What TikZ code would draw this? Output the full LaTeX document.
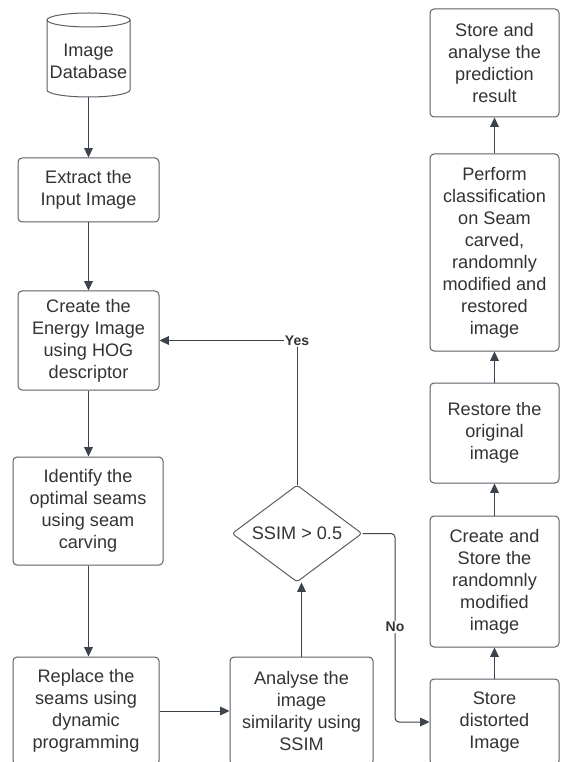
\documentclass[tikz,border=0pt]{standalone}
\usepackage{fontspec}
\setmainfont{Liberation Sans}
\usetikzlibrary{arrows.meta,shapes.geometric}
\definecolor{linec}{HTML}{3D434B}
\definecolor{boxc}{HTML}{5A5F66}
\definecolor{textc}{HTML}{333333}
\tikzset{
  flowbox/.style={draw=boxc, line width=0.75pt, rounded corners=3pt, align=center,
    text=textc, font=\fontsize{13.6pt}{16.5pt}\selectfont, inner sep=0pt},
  flowarrow/.style={draw=linec, line width=0.75pt, -{Triangle[length=7pt,width=6.5pt]}},
  flowline/.style={draw=linec, line width=0.75pt},
  edgelabel/.style={fill=white, text=textc, font=\fontsize{10.5pt}{12pt}\selectfont\bfseries, inner sep=1pt},
  decision/.style={diamond, draw=boxc, line width=0.75pt, rounded corners=2pt, aspect=1.34,
    text=textc, font=\fontsize{13.6pt}{16.5pt}\selectfont, inner sep=0pt,
    minimum width=130*0.75pt, minimum height=97*0.75pt}
}
\begin{document}
\begin{tikzpicture}[x=0.75pt,y=-0.75pt]
\useasboundingbox (0,0) rectangle (560,762);
\clip (0,0) rectangle (560,762);
\fill[white] (0,0) rectangle (560,762);
% database cylinder
\draw[boxc, line width=0.75pt, fill=white] (47,20) -- (47,90) arc[start angle=180, end angle=0, x radius=41.5, y radius=7] -- (130,20);
\draw[boxc, line width=0.75pt] (88.5,20) ellipse[x radius=41.5, y radius=7];
\node[flowbox, draw=none] (db) at (88.5,61) {Image\\Database};
\coordinate (dbbot) at (88.5,97);
% left column
\node[flowbox, minimum width=141*0.75pt, minimum height=64*0.75pt] (extract) at (88.5,190) {Extract the\\Input Image};
\node[flowbox, minimum width=141*0.75pt, minimum height=99*0.75pt] (energy) at (88.5,340.5) {Create the\\Energy Image\\using HOG\\descriptor};
\node[flowbox, minimum width=150*0.75pt, minimum height=108*0.75pt] (identify) at (88,511) {Identify the\\optimal seams\\using seam\\carving};
\node[flowbox, minimum width=146*0.75pt, minimum height=108*0.75pt] (replace) at (86,711) {Replace the\\seams using\\dynamic\\programming};
% middle
\node[flowbox, minimum width=143*0.75pt, minimum height=108*0.75pt] (analyse) at (301.5,711) {Analyse the\\image\\similarity using\\SSIM};
\node[decision] (dia) at (297,533.5) {SSIM > 0.5};
% right column
\node[flowbox, minimum width=129*0.75pt, minimum height=108*0.75pt] (store) at (494.5,63) {Store and\\analyse the\\prediction\\result};
\node[flowbox, minimum width=129*0.75pt, minimum height=197*0.75pt] (perform) at (494.5,252.5) {Perform\\classification\\on Seam\\carved,\\randomnly\\modified and\\restored\\image};
\node[flowbox, minimum width=129*0.75pt, minimum height=100*0.75pt] (restore) at (494.5,433) {Restore the\\original\\image};
\node[flowbox, minimum width=129*0.75pt, minimum height=131*0.75pt] (create) at (494.5,581.5) {Create and\\Store the\\randomnly\\modified\\image};
\node[flowbox, minimum width=129*0.75pt, minimum height=86*0.75pt] (distorted) at (494.5,722) {Store\\distorted\\Image};
\coordinate (nocorner) at (395,627);
% connectors
\draw[flowarrow] (dbbot) -- (extract.north);
\draw[flowarrow] (extract.south) -- (energy.north);
\draw[flowarrow] (energy.south) -- (identify.north -| energy.south);
\draw[flowarrow] (identify.south -| energy.south) -- (replace.north -| energy.south);
\draw[flowarrow] (replace.east) -- (analyse.west);
\draw[flowarrow] (analyse.north) -- (analyse.north |- dia.south);
\draw[flowarrow] (dia.north) |- node[edgelabel, pos=0.5] {Yes} (energy.east);
\draw[flowarrow, rounded corners=3pt] (dia.east) -| (nocorner) node[edgelabel] {No} |- (distorted.west);
\draw[flowarrow] (distorted.north) -- (create.south);
\draw[flowarrow] (create.north) -- (restore.south);
\draw[flowarrow] (restore.north) -- (perform.south);
\draw[flowarrow] (perform.north) -- (store.south);
\end{tikzpicture}
\end{document}
